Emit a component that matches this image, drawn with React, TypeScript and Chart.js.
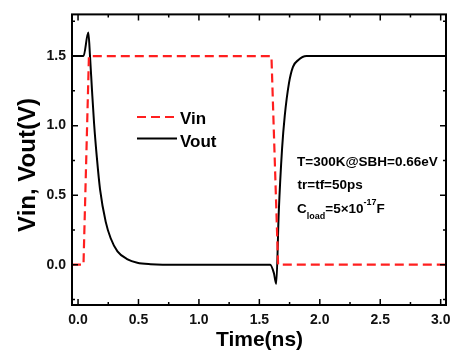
import React, { useEffect, useRef } from "react";
import { Chart, registerables } from "chart.js";

Chart.register(...registerables);

// ---- data ----
const vinTime = [-0.05, 0.045, 0.09, 1.6, 1.655, 3.044];
const vinVolt = [0, 0, 1.5, 1.5, 0, 0];

const voutTime = [
  -0.05, 0.045, 0.085, 0.099, 0.116, 0.133, 0.155, 0.182, 0.229, 0.27, 0.326, 0.41, 0.49,
  0.6, 0.7, 1.59, 1.62, 1.64, 1.66, 1.688, 1.71, 1.745, 1.778, 1.82, 1.89, 3.044,
];
const voutVolt = [
  1.5, 1.5, 1.67, 1.5, 1.246, 1.012, 0.777, 0.542, 0.308, 0.19, 0.096, 0.038, 0.014,
  0.003, 0, 0, -0.06, -0.138, 0.366, 0.836, 1.07, 1.306, 1.423, 1.47, 1.5, 1.5,
];

const xMajorTicks = [0, 0.5, 1.0, 1.5, 2.0, 2.5, 3.0];
const xMinorTicks = [0.25, 0.75, 1.25, 1.75, 2.25, 2.75];
const yMajorTicks = [0, 0.5, 1.0, 1.5];
const yMinorTicks = [-0.25, 0.25, 0.75, 1.25, 1.75];

const xTitle = "Time(ns)";
const yTitle = "Vin, Vout(V)";
const legendLabels = ["Vin", "Vout"];

const FONT = "'Liberation Sans', Arial, sans-serif";
const RED = "#ff1f1f";

const decorPlugin = {
  id: "decor",
  afterDatasetsDraw(chart: any) {
    const ctx = chart.ctx as CanvasRenderingContext2D;
    const { left, right, top, bottom } = chart.chartArea;
    const xs = chart.scales.x;
    const ys = chart.scales.y;
    ctx.save();
    // frame
    ctx.strokeStyle = "#000";
    ctx.lineWidth = 2;
    ctx.strokeRect(left, top, right - left, bottom - top);
    // ticks (inward, all sides)
    ctx.lineWidth = 1.5;
    const drawX = (v: number, len: number) => {
      const px = xs.getPixelForValue(v);
      ctx.beginPath();
      ctx.moveTo(px, bottom);
      ctx.lineTo(px, bottom - len);
      ctx.moveTo(px, top);
      ctx.lineTo(px, top + len);
      ctx.stroke();
    };
    const drawY = (v: number, len: number) => {
      const py = ys.getPixelForValue(v);
      ctx.beginPath();
      ctx.moveTo(left, py);
      ctx.lineTo(left + len, py);
      ctx.moveTo(right, py);
      ctx.lineTo(right - len, py);
      ctx.stroke();
    };
    xMajorTicks.forEach((v) => drawX(v, 6));
    xMinorTicks.forEach((v) => drawX(v, 3));
    yMajorTicks.forEach((v) => drawY(v, 6));
    yMinorTicks.forEach((v) => drawY(v, 3));

    // legend
    ctx.lineWidth = 2.2;
    ctx.strokeStyle = RED;
    ctx.setLineDash([9, 5]);
    ctx.beginPath();
    ctx.moveTo(137, 117);
    ctx.lineTo(177, 117);
    ctx.stroke();
    ctx.setLineDash([]);
    ctx.strokeStyle = "#000";
    ctx.beginPath();
    ctx.moveTo(137, 138.5);
    ctx.lineTo(177, 138.5);
    ctx.stroke();
    ctx.fillStyle = "#000";
    ctx.textAlign = "left";
    ctx.textBaseline = "alphabetic";
    ctx.font = `bold 17px ${FONT}`;
    ctx.fillText(legendLabels[0], 180, 123.5);
    ctx.fillText(legendLabels[1], 180, 146.5);

    // annotations
    ctx.font = `bold 13.5px ${FONT}`;
    ctx.fillText("T=300K@SBH=0.66eV", 297, 166);
    ctx.fillText("tr=tf=50ps", 297.5, 188.5);
    let x = 297;
    ctx.fillText("C", x, 213);
    x += ctx.measureText("C").width;
    ctx.font = `bold 9px ${FONT}`;
    ctx.fillText("load", x, 219);
    x += ctx.measureText("load").width;
    ctx.font = `bold 13.5px ${FONT}`;
    ctx.fillText("=5×10", x, 213);
    x += ctx.measureText("=5×10").width;
    ctx.font = `bold 9px ${FONT}`;
    ctx.fillText("-17", x, 205);
    x += ctx.measureText("-17").width;
    ctx.font = `bold 13.5px ${FONT}`;
    ctx.fillText("F", x, 213);

    // axis titles
    ctx.font = `bold 21px ${FONT}`;
    ctx.textAlign = "center";
    ctx.fillText(xTitle, 259.5, 346);
    ctx.save();
    ctx.translate(35, 165);
    ctx.rotate(-Math.PI / 2);
    ctx.font = `bold 24px ${FONT}`;
    ctx.fillText(yTitle, 0, 0);
    ctx.restore();
    ctx.restore();
  },
};

export default function App() {
  const canvasRef = useRef<HTMLCanvasElement | null>(null);
  useEffect(() => {
    if (!canvasRef.current) return;
    const chart = new Chart(canvasRef.current, {
      type: "scatter",
      data: {
        datasets: [
          {
            label: legendLabels[0],
            data: vinTime.map((t, i) => ({ x: t, y: vinVolt[i] })),
            showLine: true,
            borderColor: RED,
            borderWidth: 2.2,
            borderDash: [9, 5],
            pointRadius: 0,
            tension: 0,
          },
          {
            label: legendLabels[1],
            data: voutTime.map((t, i) => ({ x: t, y: voutVolt[i] })),
            showLine: true,
            borderColor: "#000",
            borderWidth: 2,
            pointRadius: 0,
            cubicInterpolationMode: "monotone",
          },
        ],
      },
      options: {
        animation: false,
        responsive: false,
        devicePixelRatio: 1,
        layout: { padding: { left: 0, top: 8, right: 17, bottom: 0 } },
        plugins: { legend: { display: false }, tooltip: { enabled: false } },
        scales: {
          x: {
            type: "linear",
            min: -0.05,
            max: 3.044,
            grid: { display: false, drawTicks: false },
            border: { display: false },
            afterBuildTicks: (s: any) => {
              s.ticks = xMajorTicks.map((v) => ({ value: v }));
            },
            afterFit: (s: any) => {
              s.height = 46;
            },
            ticks: {
              padding: 7,
              color: "#111",
              font: { family: FONT, size: 14, weight: "bold" },
              callback: (v: any) => Number(v).toFixed(1),
              maxRotation: 0,
              autoSkip: false,
            },
          },
          y: {
            type: "linear",
            min: -0.29,
            max: 1.8,
            grid: { display: false, drawTicks: false },
            border: { display: false },
            afterBuildTicks: (s: any) => {
              s.ticks = yMajorTicks.map((v) => ({ value: v }));
            },
            afterFit: (s: any) => {
              s.width = 72;
            },
            ticks: {
              padding: 6,
              color: "#111",
              font: { family: FONT, size: 14, weight: "bold" },
              callback: (v: any) => Number(v).toFixed(1),
              autoSkip: false,
            },
          },
        },
      },
      plugins: [decorPlugin],
    } as any);
    return () => chart.destroy();
  }, []);
  return (
    <div style={{ position: "fixed", left: 0, top: 0, width: 463, height: 351, background: "#fff" }}>
      <canvas ref={canvasRef} width={463} height={351} style={{ display: "block" }} />
    </div>
  );
}
